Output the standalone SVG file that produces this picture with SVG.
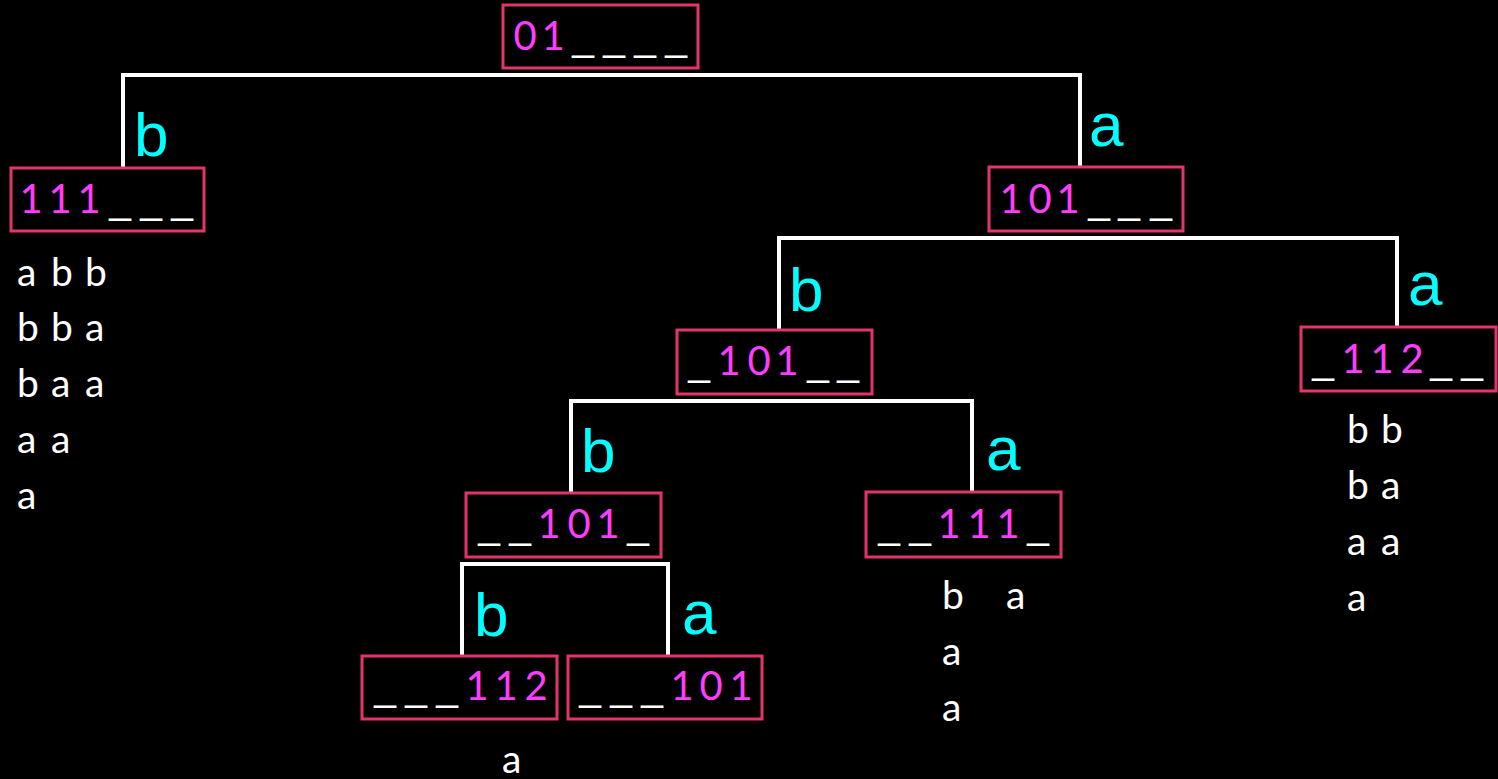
<svg xmlns="http://www.w3.org/2000/svg" width="1498" height="779" viewBox="0 0 1498 779">
  <style>
    .box { fill: #000; stroke: #e2356f; stroke-width: 3; }
    .cell { font-family: Lato, "Open Sans", sans-serif; font-size: 40px; text-anchor: middle; }
    .d { fill: #ff3cff; }
    .u { fill: #ffffff; font-family: "Liberation Sans", Arial, sans-serif; font-size: 39px; }
    .edge { stroke: #ffffff; stroke-width: 4; fill: none; stroke-linecap: square; stroke-linejoin: miter; }
    .lbl { fill: #00ffff; font-family: "Liberation Sans", Arial, sans-serif; font-size: 62px; }
    .seq { fill: #ffffff; font-family: Lato, "Open Sans", sans-serif; font-size: 39px; }
  </style>
  <rect width="1498" height="779" fill="#000"/>

  <!-- tree connectors -->
  <g id="connectors">
    <path class="edge" d="M123 167 V75 H1080 V167"/>
    <path class="edge" d="M779 330 V238 H1397 V327"/>
    <path class="edge" d="M571 493 V401 H972 V492"/>
    <path class="edge" d="M462 656 V564 H668 V656"/>
  </g>

  <!-- branch labels -->
  <g id="labels">
    <text class="lbl" x="134" y="156">b</text>
    <text class="lbl" x="1089" y="146">a</text>
    <text class="lbl" x="789" y="311">b</text>
    <text class="lbl" x="1408" y="305">a</text>
    <text class="lbl" x="581" y="472">b</text>
    <text class="lbl" x="986" y="470">a</text>
    <text class="lbl" x="474" y="636">b</text>
    <text class="lbl" x="682" y="634">a</text>
  </g>

  <g id="n-root">
    <rect class="box" x="503" y="5" width="195" height="63"/>
    <text class="cell" y="50"><tspan class="d" x="525">0</tspan><tspan class="d" x="553">1</tspan><tspan class="u" x="583">_</tspan><tspan class="u" x="614">_</tspan><tspan class="u" x="645">_</tspan><tspan class="u" x="676">_</tspan></text>
  </g>

  <g id="n-111">
    <rect class="box" x="11" y="168" width="193" height="63"/>
    <text class="cell" y="213"><tspan class="d" x="31">1</tspan><tspan class="d" x="60">1</tspan><tspan class="d" x="89">1</tspan><tspan class="u" x="120">_</tspan><tspan class="u" x="151">_</tspan><tspan class="u" x="182">_</tspan></text>
    <text class="seq"><tspan x="17 51 85" y="286">abb</tspan><tspan x="17 51 85" y="341">bba</tspan><tspan x="17 51 85" y="397">baa</tspan><tspan x="17 51" y="453">aa</tspan><tspan x="17" y="509">a</tspan></text>
  </g>

  <g id="n-101">
    <rect class="box" x="989" y="167" width="194" height="64"/>
    <text class="cell" y="213"><tspan class="d" x="1011">1</tspan><tspan class="d" x="1040">0</tspan><tspan class="d" x="1068">1</tspan><tspan class="u" x="1099">_</tspan><tspan class="u" x="1129">_</tspan><tspan class="u" x="1161">_</tspan></text>
  </g>

  <g id="n-x101">
    <rect class="box" x="677" y="330" width="195" height="64"/>
    <text class="cell" y="375"><tspan class="u" x="699">_</tspan><tspan class="d" x="729">1</tspan><tspan class="d" x="759">0</tspan><tspan class="d" x="787">1</tspan><tspan class="u" x="818">_</tspan><tspan class="u" x="848">_</tspan></text>
  </g>

  <g id="n-x112">
    <rect class="box" x="1301" y="327" width="195" height="64"/>
    <text class="cell" y="373"><tspan class="u" x="1323">_</tspan><tspan class="d" x="1353">1</tspan><tspan class="d" x="1382">1</tspan><tspan class="d" x="1412">2</tspan><tspan class="u" x="1441">_</tspan><tspan class="u" x="1472">_</tspan></text>
    <text class="seq"><tspan x="1347 1381" y="443">bb</tspan><tspan x="1347 1381" y="499">ba</tspan><tspan x="1347 1381" y="555">aa</tspan><tspan x="1347" y="611">a</tspan></text>
  </g>

  <g id="n-xx101">
    <rect class="box" x="466" y="493" width="195" height="64"/>
    <text class="cell" y="538"><tspan class="u" x="489">_</tspan><tspan class="u" x="520">_</tspan><tspan class="d" x="549">1</tspan><tspan class="d" x="579">0</tspan><tspan class="d" x="608">1</tspan><tspan class="u" x="638">_</tspan></text>
  </g>

  <g id="n-xx111">
    <rect class="box" x="866" y="492" width="195" height="65"/>
    <text class="cell" y="538"><tspan class="u" x="889">_</tspan><tspan class="u" x="920">_</tspan><tspan class="d" x="949">1</tspan><tspan class="d" x="979">1</tspan><tspan class="d" x="1008">1</tspan><tspan class="u" x="1038">_</tspan></text>
    <text class="seq"><tspan x="942" y="609">b</tspan><tspan x="1006" y="609">a</tspan><tspan x="942" y="665">a</tspan><tspan x="942" y="721">a</tspan></text>
  </g>

  <g id="n-xxx112">
    <rect class="box" x="362" y="656" width="195" height="63"/>
    <text class="cell" y="700"><tspan class="u" x="385">_</tspan><tspan class="u" x="416">_</tspan><tspan class="u" x="447">_</tspan><tspan class="d" x="477">1</tspan><tspan class="d" x="506">1</tspan><tspan class="d" x="536">2</tspan></text>
    <text class="seq" x="502" y="773">a</text>
  </g>

  <g id="n-xxx101">
    <rect class="box" x="568" y="656" width="194" height="63"/>
    <text class="cell" y="700"><tspan class="u" x="590">_</tspan><tspan class="u" x="621">_</tspan><tspan class="u" x="652">_</tspan><tspan class="d" x="682">1</tspan><tspan class="d" x="711">0</tspan><tspan class="d" x="741">1</tspan></text>
  </g>
</svg>
